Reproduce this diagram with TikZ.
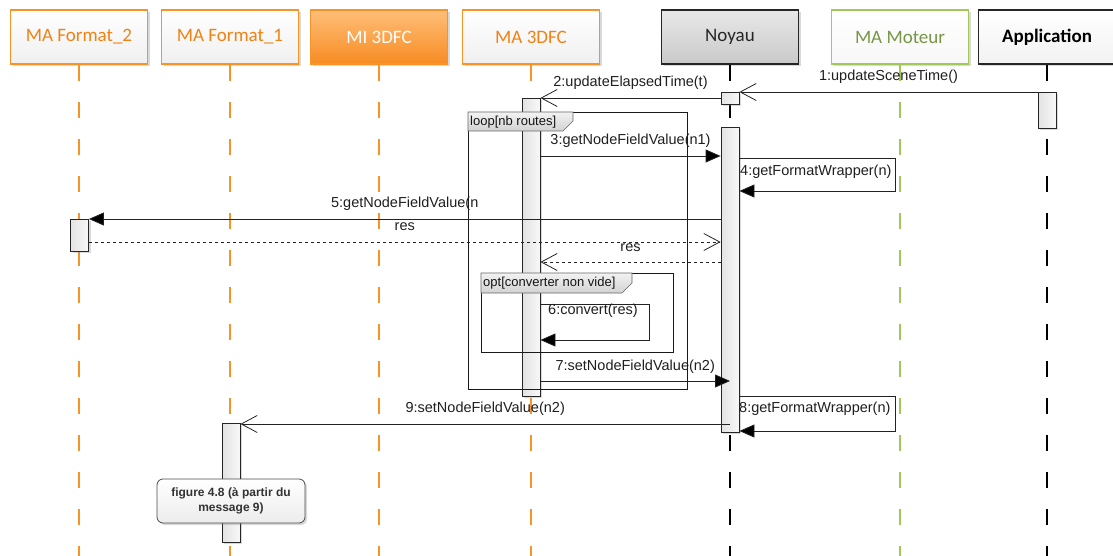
\documentclass[tikz,border=0pt]{standalone}
\usepackage{fontspec}
\setmainfont{Liberation Sans}
\newfontfamily\headfont{Carlito}
\usepackage{tikz}
\usetikzlibrary{arrows.meta, positioning, calc, shadows}
\definecolor{maorange}{RGB}{247, 148, 40}
\definecolor{matext}{RGB}{240, 130, 20}
\definecolor{mitop}{RGB}{255, 190, 120}
\definecolor{mibottom}{RGB}{247, 140, 35}
\definecolor{motgreen}{RGB}{160, 200, 90}
\definecolor{mottext}{RGB}{118, 150, 70}
\definecolor{msggray}{RGB}{35, 35, 35}

\begin{document}
\begin{tikzpicture}[x=1pt, y=-1pt,
    head/.style={draw, line width=1.6pt, minimum width=137pt, minimum height=54pt,
        inner sep=0pt, font=\headfont\fontsize{19}{22}\selectfont,
        drop shadow={shadow xshift=2pt, shadow yshift=-2pt, opacity=0.3}},
    mahead/.style={head, draw=maorange, text=matext, top color=white, bottom color=gray!12},
    lifeline/.style={line width=1.8pt, dash pattern=on 16pt off 21pt},
    act/.style={draw=black!85, line width=0.8pt, left color=gray!22, right color=gray!6,
        minimum width=18pt, inner sep=0pt, anchor=north,
        drop shadow={shadow xshift=2pt, shadow yshift=-2pt, opacity=0.3}},
    msg/.style={draw=msggray, line width=0.8pt},
    call/.style={msg, -{Triangle[length=15pt, width=13pt, fill=black]}},
    reply/.style={msg, -{Straight Barb[length=16pt, width=17pt]}},
    lbl/.style={font=\fontsize{14.5}{17}\selectfont, text=black!88, inner sep=0pt},
    frame/.style={draw=black!90, line width=0.8pt, anchor=north west, inner sep=0pt},
    tab/.style={draw=black!60, line width=0.6pt, top color=gray!10, bottom color=gray!35},
    tablbl/.style={font=\fontsize{13}{15}\selectfont, text=black!92, anchor=west, inner sep=0pt},
    note/.style={draw=black!70, line width=0.8pt, rounded corners=6pt, top color=white,
        bottom color=gray!15, minimum width=148pt, minimum height=44pt, align=center,
        font=\bfseries\fontsize{12}{15}\selectfont, text=black!80,
        drop shadow={shadow xshift=2pt, shadow yshift=-2pt, opacity=0.3}}
]
\useasboundingbox (0,0) rectangle (1113,556);

% lifeline heads
\node[mahead] (fmt2) at (79,37) {MA Format\_2};
\node[mahead] (fmt1) at (230,37) {MA Format\_1};
\node[head, draw=maorange, text=white, top color=mitop, bottom color=mibottom] (mi) at (379,37) {MI 3DFC};
\node[mahead] (tdfc) at (531,37) {MA 3DFC};
\node[head, draw=black!85, text=black!85, top color=gray!18, bottom color=gray!42] (noy) at (730,37) {Noyau};
\node[head, draw=motgreen, text=mottext, top color=white, bottom color=gray!6] (mot) at (900,37) {MA Moteur};
\node[head, draw=black!85, text=black, top color=white, bottom color=gray!10,
      font=\headfont\bfseries\fontsize{19}{22}\selectfont] (app) at (1047,37) {Application};

\foreach \n/\col in {fmt2/maorange, fmt1/maorange, mi/maorange, tdfc/maorange,
                     noy/black, mot/motgreen, app/black}
    \draw[lifeline, draw=\col] (\n.south) -- (\n.south |- 0,556);

% activations
\node[act, minimum height=36pt] (appAct) at (1047,92) {};
\node[act, minimum height=12pt] (noySmall) at (730,92) {};
\node[act, minimum height=305pt] (noyAct) at (730,127) {};
\node[act, minimum height=298pt] (tdfcAct) at (531,98) {};
\node[act, minimum height=32pt] (fmt2Act) at (79.5,219) {};
\node[act, minimum height=119pt] (fmt1Act) at (231,423) {};

% combined fragments
\node[frame, minimum width=219pt, minimum height=277pt] (loopFrame) at (468,112) {};
\draw[tab] (loopFrame.north west) -- ++(105,0) -- ++(0,9) -- ++(-10,10) -- ++(-95,0) -- cycle;
\node[tablbl] (loopLbl) at ($(loopFrame.north west)+(2,10)$) {loop[nb routes]};
\node[frame, minimum width=192pt, minimum height=79pt] (optFrame) at (481,273) {};
\draw[tab] (optFrame.north west) -- ++(151,0) -- ++(0,10) -- ++(-10,10) -- ++(-141,0) -- cycle;
\node[tablbl] (optLbl) at ($(optFrame.north west)+(2,10)$) {opt[converter non vide]};

% messages
\draw[reply] (appAct.west |- 0,92) -- (noySmall.east |- 0,92)
    node[lbl, midway, yshift=15pt] {1:updateSceneTime()};
\draw[reply] (noySmall.west |- 0,98) -- (tdfcAct.east |- 0,98)
    node[lbl, midway, yshift=15pt] {2:updateElapsedTime(t)};
\draw[call] (tdfcAct.east |- 0,156) -- (noyAct.west |- 0,156)
    node[lbl, midway, yshift=15pt] {3:getNodeFieldValue(n1)};
\draw[call] (noyAct.east |- 0,158) -- ++(156,0) -- ++(0,33) -- (noyAct.east |- 0,191);
\node[lbl, anchor=west] (m4) at (740,172) {4:getFormatWrapper(n)};
\draw[call] (noyAct.west |- 0,219) -- (fmt2Act.east |- 0,219)
    node[lbl, midway, yshift=15pt] {5:getNodeFieldValue(n};
\draw[reply, dashed] (fmt2Act.east |- 0,242) -- (noyAct.west |- 0,242)
    node[lbl, midway, yshift=15pt] {res};
\draw[reply, dashed] (noyAct.west |- 0,262) -- (tdfcAct.east |- 0,262)
    node[lbl, midway, yshift=14pt] {res};
\draw[call] (tdfcAct.east |- 0,304) -- ++(109,0) -- ++(0,36) -- (tdfcAct.east |- 0,340);
\node[lbl, anchor=west] (m6) at (548,311) {6:convert(res)};
\draw[call] (tdfcAct.east |- 0,381) -- (noyAct.center |- 0,381)
    node[lbl, midway, yshift=14pt] {7:setNodeFieldValue(n2)};
\draw[call] (noyAct.east |- 0,396) -- ++(156,0) -- ++(0,35) -- (noyAct.east |- 0,431);
\node[lbl, anchor=west] (m8) at (739,409) {8:getFormatWrapper(n)};
\draw[reply] (noyAct.center |- 0,424) -- (fmt1Act.east |- 0,424)
    node[lbl, midway, yshift=15pt] {9:setNodeFieldValue(n2)};

% note
\node[note] (fig48) at (231,501) {figure 4.8 (à partir du\\message 9)};
\end{tikzpicture}
\end{document}
